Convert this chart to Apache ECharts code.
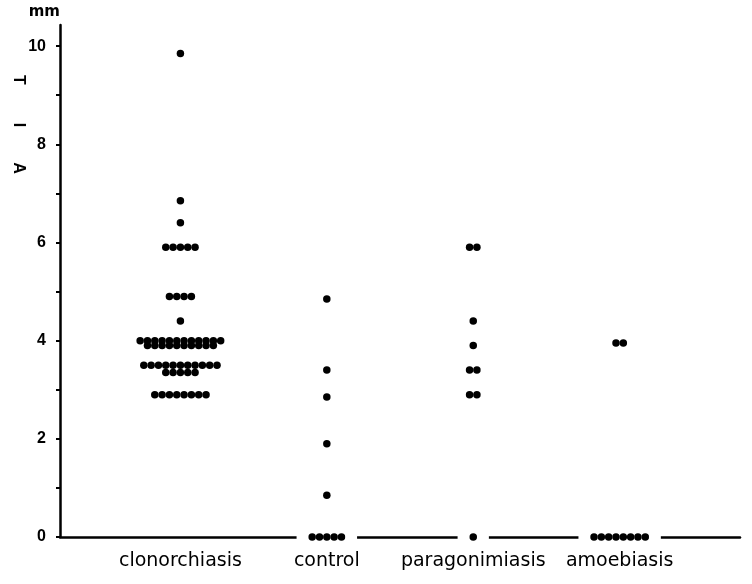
<!DOCTYPE html>
<html>
<head>
<meta charset="utf-8">
<script src="https://cdn.jsdelivr.net/npm/echarts@6/dist/echarts.min.js"></script>
<style>
  html, body { margin: 0; padding: 0; background: #fff; }
  #chart { width: 752px; height: 584px; }
</style>
</head>
<body>
<div id="chart"></div>
<script>
// ---- data ----
const categories = ['clonorchiasis', 'control', 'paragonimiasis', 'amoebiasis'];

const clonorchiasis = [
  9.85, 6.85, 6.4,
  5.9, 5.9, 5.9, 5.9, 5.9,
  4.9, 4.9, 4.9, 4.9,
  4.4,
  4.0, 4.0, 4.0, 4.0, 4.0, 4.0, 4.0, 4.0, 4.0, 4.0, 4.0, 4.0,
  3.9, 3.9, 3.9, 3.9, 3.9, 3.9, 3.9, 3.9, 3.9, 3.9,
  3.5, 3.5, 3.5, 3.5, 3.5, 3.5, 3.5, 3.5, 3.5, 3.5, 3.5,
  3.35, 3.35, 3.35, 3.35, 3.35,
  2.9, 2.9, 2.9, 2.9, 2.9, 2.9, 2.9, 2.9
];
const control = [4.85, 3.4, 2.85, 1.9, 0.85, 0, 0, 0, 0, 0];
const paragonimiasis = [5.9, 5.9, 4.4, 3.9, 3.4, 3.4, 2.9, 2.9, 0];
const amoebiasis = [3.95, 3.95, 0, 0, 0, 0, 0, 0, 0, 0];

const yTickValues = [0, 1, 2, 3, 4, 5, 6, 7, 8, 9, 10];
const yLabelValues = [0, 2, 4, 6, 8, 10];
const yAxisName = 'mm';
const sideLabel = ['T', 'I', 'A'];

// ---- layout helpers ----
const groups = [clonorchiasis, control, paragonimiasis, amoebiasis];
const dotStep = 0.05;      // horizontal spacing of stacked dots, in category units
const dotSize = 7.5;

function rowsOf(values) {
  const map = new Map();
  values.forEach(v => map.set(v, (map.get(v) || 0) + 1));
  return map;
}

const dots = [];
const gaps = [];
groups.forEach((vals, gi) => {
  const c = gi + 1;
  rowsOf(vals).forEach((n, v) => {
    for (let j = 0; j < n; j++) {
      dots.push([c + (j - (n - 1) / 2) * dotStep, v]);
    }
    if (v === 0) {
      gaps.push({ value: [c, 0], symbolSize: [n * 7.3 + 24, 7] });
    }
  });
});

const chart = echarts.init(document.getElementById('chart'), null, { renderer: 'canvas' });

chart.setOption({
  backgroundColor: '#ffffff',
  animation: false,
  grid: { left: 60, right: 12, top: 25, bottom: 47 },
  xAxis: {
    type: 'value',
    min: 0.1776,
    max: 4.822,
    splitLine: { show: false },
    axisTick: { show: false },
    axisLine: { show: true, onZero: true, lineStyle: { color: '#000', width: 2.5 } },
    axisLabel: {
      customValues: [1, 2, 3, 4],
      formatter: v => categories[Math.round(v) - 1] || '',
      color: '#000',
      fontFamily: 'DejaVu Sans',
      fontSize: 19,
      margin: 15
    }
  },
  yAxis: {
    type: 'value',
    min: 0,
    max: 10.43,
    interval: 1,
    name: yAxisName,
    nameLocation: 'end',
    nameGap: 5,
    nameTextStyle: {
      align: 'right',
      color: '#000',
      fontFamily: 'DejaVu Sans',
      fontSize: 15,
      fontWeight: 'bold'
    },
    splitLine: { show: false },
    axisLine: { show: true, lineStyle: { color: '#000', width: 2.5 } },
    axisTick: {
      show: true,
      inside: false,
      length: 4,
      customValues: yTickValues,
      lineStyle: { color: '#000', width: 2 }
    },
    axisLabel: {
      customValues: yLabelValues,
      color: '#000',
      fontFamily: 'Liberation Sans',
      fontSize: 16,
      fontWeight: 'bold',
      margin: 14
    }
  },
  graphic: sideLabel.map((t, i) => ({
    type: 'text',
    x: 18,
    y: [80, 125, 168][i],
    rotation: -Math.PI / 2,
    style: {
      text: t,
      fill: '#000',
      font: 'bold 16px "Liberation Sans"',
      align: 'center',
      verticalAlign: 'middle'
    }
  })),
  series: [
    {
      type: 'scatter',
      z: 1,
      silent: true,
      symbol: 'rect',
      itemStyle: { color: '#ffffff', opacity: 1 },
      data: gaps
    },
    {
      type: 'scatter',
      z: 3,
      symbol: 'circle',
      symbolSize: dotSize,
      itemStyle: { color: '#000000', opacity: 1 },
      data: dots
    }
  ]
});
</script>
</body>
</html>
